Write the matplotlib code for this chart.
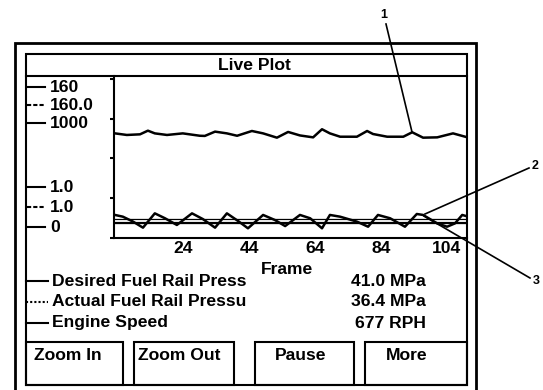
import numpy as np
import matplotlib.pyplot as plt
from matplotlib.lines import Line2D
from matplotlib.patches import Rectangle

# chart values
frame_ticks = [24, 44, 64, 84, 104]

engine_frames = [3.2, 6.8, 10.8, 13.2, 15.3, 19.0, 23.8, 29.0, 30.5, 33.6, 37.2, 40.3,
                 44.8, 48.2, 52.4, 55.8, 59.4, 63.4, 66.1, 68.5, 71.6, 76.7, 79.8,
                 81.6, 85.9, 90.8, 93.5, 96.8, 101.1, 105.9, 109.6]
engine_vals = [65.8, 64.8, 65.2, 67.5, 65.8, 64.8, 65.8, 64.3, 64.2, 66.9, 65.8, 64.3,
               67.3, 65.8, 63.1, 66.7, 64.5, 63.3, 68.4, 65.8, 63.7, 63.7, 67.3,
               65.4, 63.7, 63.7, 66.5, 63.1, 63.3, 65.8, 63.7]

actual_frames = [3.2, 5.6, 8.7, 11.7, 15.3, 18.4, 22.0, 26.6, 29.9, 33.6, 37.2, 40.6,
                 43.6, 48.2, 51.8, 54.9, 59.4, 62.5, 66.1, 68.5, 71.6, 76.7, 80.1,
                 83.1, 86.8, 91.3, 94.9, 96.8, 101.1, 104.1, 106.5, 108.7, 109.9]
actual_vals = [14.5, 13.4, 10.3, 6.5, 15.5, 12.4, 8.2, 15.5, 11.9, 6.5, 15.5, 10.7,
               6.1, 14.5, 11.3, 7.5, 14.5, 12.4, 6.1, 14.5, 13.4, 10.3, 7.1,
               14.5, 12.4, 7.1, 15.1, 14.5, 9.2, 7.1, 9.2, 14.5, 13.8]

desired_val = 10.7

scale_labels = ['160', '160.0', '1000', '1.0', '1.0', '0']
scale_styles = ['-', (0, (2, 1)), '-', '-', (0, (2, 1)), '-']

legend_names = ['Desired Fuel Rail Press', 'Actual Fuel Rail Pressu', 'Engine Speed']
legend_values = ['41.0 MPa', '36.4 MPa', '677 RPH']
legend_styles = ['-', (0, (1, 1)), '-']

buttons = ['Zoom In', 'Zoom Out', 'Pause', 'More']

W, H = 543, 390
plt.rcParams['font.family'] = ['Liberation Sans', 'DejaVu Sans']
plt.rcParams['font.weight'] = 'bold'
FS = 12.6


def fx(x):
    return x / W


def fy(y):
    return 1 - y / H


fig = plt.figure(figsize=(W / 100, H / 100), dpi=100)


def fline(x0, y0, x1, y1, lw=1.5, ls='-'):
    fig.add_artist(Line2D([fx(x0), fx(x1)], [fy(y0), fy(y1)], color='black', lw=lw, ls=ls))


def frect(x0, y0, x1, y1, lw=1.5):
    fig.add_artist(Rectangle((fx(x0), fy(y1)), fx(x1) - fx(x0), fy(y0) - fy(y1),
                             fill=False, ec='black', lw=lw))


# frames
frect(14.5, 42.6, 475.5, 395, lw=2.0)
frect(26, 53.7, 466.5, 385, lw=1.5)
fline(26, 75.5, 466.5, 75.5)
fig.text(fx(254), fy(65.5), 'Live Plot', ha='center', va='center', fontsize=FS)

# plot area
ax = fig.add_axes([fx(114), fy(238), fx(466.5) - fx(114), (238 - 75.5) / H])
ax.plot([2.9, 110], [desired_val, desired_val], color='black', lw=3.8, solid_capstyle='butt')
ax.plot([2.9, 110], [desired_val, desired_val], color='white', lw=1.3, solid_capstyle='butt')
ax.plot(actual_frames, actual_vals, color='black', lw=1.8)
ax.plot(engine_frames, engine_vals, color='black', lw=1.8)
ax.set_xlim(2.9, 110)
ax.set_ylim(0, 102.2)
ax.set_xticks(frame_ticks)
ax.set_xticklabels([str(t) for t in frame_ticks], fontsize=FS)
ax.set_yticks([0, 25, 50, 75, 100])
ax.set_yticklabels([])
ax.tick_params(axis='x', length=0, pad=2)
ax.tick_params(axis='y', length=3, width=1.5)
for s in ['top', 'right']:
    ax.spines[s].set_visible(False)
for s in ['left', 'bottom']:
    ax.spines[s].set_linewidth(1.5)
ax.patch.set_visible(False)
fig.text(fx(287), fy(270), 'Frame', ha='center', va='center', fontsize=FS)

# scale labels on the left
for lab, st, y in zip(scale_labels, scale_styles, [87, 105, 123, 187, 207, 227]):
    fline(27, y, 45, y, lw=1.5, ls=st)
    fig.text(fx(50), fy(y), lab, ha='left', va='center', fontsize=FS)

# legend rows
for name, val, st, y in zip(legend_names, legend_values, legend_styles, [281, 302, 323]):
    fline(26, y, 48, y, lw=1.5, ls=st)
    fig.text(fx(52), fy(y), name, ha='left', va='center', fontsize=FS)
    fig.text(fx(426), fy(y), val, ha='right', va='center', fontsize=FS)

# buttons
for lab, (x0, x1), tx, ha in zip(buttons, [(26, 123), (134, 234), (254.5, 354), (365, 466.5)],
                                 [33.5, 138.5, 301, 407], ['left', 'left', 'center', 'center']):
    frect(x0, 342, x1, 385, lw=1.5)
    fig.text(fx(tx), fy(356), lab, ha=ha, va='center', fontsize=FS)

# callouts
fline(386, 24, 412, 132, lw=1.2)
fig.text(fx(384), fy(15), '1', ha='center', va='center', fontsize=9)
fline(529, 168, 425, 214, lw=1.2)
fig.text(fx(535), fy(166), '2', ha='center', va='center', fontsize=9)
fline(424, 216, 530, 278, lw=1.2)
fig.text(fx(536), fy(281), '3', ha='center', va='center', fontsize=9)

fig.savefig('out.png', dpi=100)
